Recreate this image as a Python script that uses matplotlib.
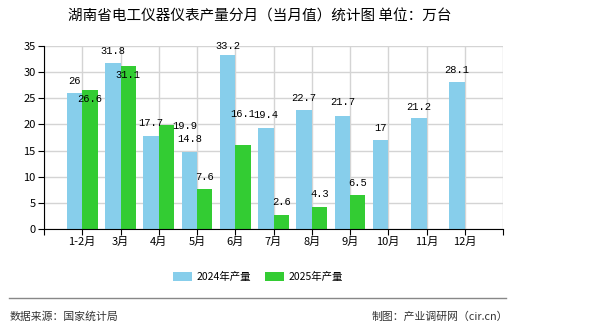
import matplotlib
matplotlib.use("Agg")
import matplotlib.pyplot as plt
import numpy as np

plt.rcParams['font.family'] = ['Noto Sans CJK SC', 'DejaVu Sans']

months = ['1-2月', '3月', '4月', '5月', '6月', '7月', '8月', '9月', '10月', '11月', '12月']
y2024 = [26, 31.8, 17.7, 14.8, 33.2, 19.4, 22.7, 21.7, 17, 21.2, 28.1]
y2025 = [26.6, 31.1, 19.9, 7.6, 16.1, 2.6, 4.3, 6.5]

# label offsets in pixels from the bar top (mimics the original's placement)
off2024 = [12, 12, 13, 13, 9, 13, 12, 14, 12, 11, 12]
off2025 = [-9, -9, -1, 12, 31, 13, 13, 12]
dx2025 = [0, 0, 18, 0, 0, 0, 0, 0]

C24 = '#87CEEB'
C25 = '#33CC33'

fig = plt.figure(figsize=(5.9, 3.3), dpi=100)
ax = fig.add_axes([44/590, 1-229/330, (503-44)/590, (229-46)/330])

x = np.arange(1, len(months) + 1)
w = 0.4
ax.bar(x[:len(y2024)] - w/2, y2024, w, color=C24, label='2024年产量', zorder=2)
ax.bar(x[:len(y2025)] + w/2, y2025, w, color=C25, label='2025年产量', zorder=2)

px = 0.72  # points per pixel at dpi 100
for i, v in enumerate(y2024):
    ax.annotate('%g' % v, (x[i] - w/2, v), xytext=(0, off2024[i]*px), textcoords='offset points',
                ha='center', va='center', fontsize=7.5, family='Liberation Mono', zorder=3)
for i, v in enumerate(y2025):
    ax.annotate('%g' % v, (x[i] + w/2, v), xytext=(dx2025[i]*px, off2025[i]*px), textcoords='offset points',
                ha='center', va='center', fontsize=7.5, family='Liberation Mono', zorder=3)

ax.set_xlim(0, 12)
ax.set_ylim(0, 35)
ax.set_yticks(range(0, 36, 5))
ax.set_xticks(range(0, 13))
ax.set_xticklabels([''] + months + [''])
ax.tick_params(axis='both', labelsize=8, length=4, color='black', pad=2)
ax.grid(True, color='#D4D4D4', lw=1, zorder=0)
for s in ['top', 'right']:
    ax.spines[s].set_visible(False)
ax.spines['left'].set_color('black')
ax.spines['bottom'].set_color('black')

fig.text(260/590, 1-17/330, '湖南省电工仪器仪表产量分月（当月值）统计图 单位：万台',
         ha='center', va='center', fontsize=10.5)

fig.legend(loc='center', bbox_to_anchor=(258/590, 1-277/330), ncol=2, frameon=False,
           fontsize=7.5, handlelength=1.75, handleheight=0.85, columnspacing=1.4, handletextpad=0.45)

fig.add_artist(plt.Line2D([9/590, 506/590], [1-298/330, 1-298/330], color='#888888', lw=1))
fig.text(10/590, 1-317/330, '数据来源：国家统计局', ha='left', va='center', fontsize=7.8, color='#333333')
fig.text(508/590, 1-317/330, '制图：产业调研网（cir.cn）', ha='right', va='center', fontsize=7.8, color='#333333')

fig.savefig('out.png', dpi=100)
